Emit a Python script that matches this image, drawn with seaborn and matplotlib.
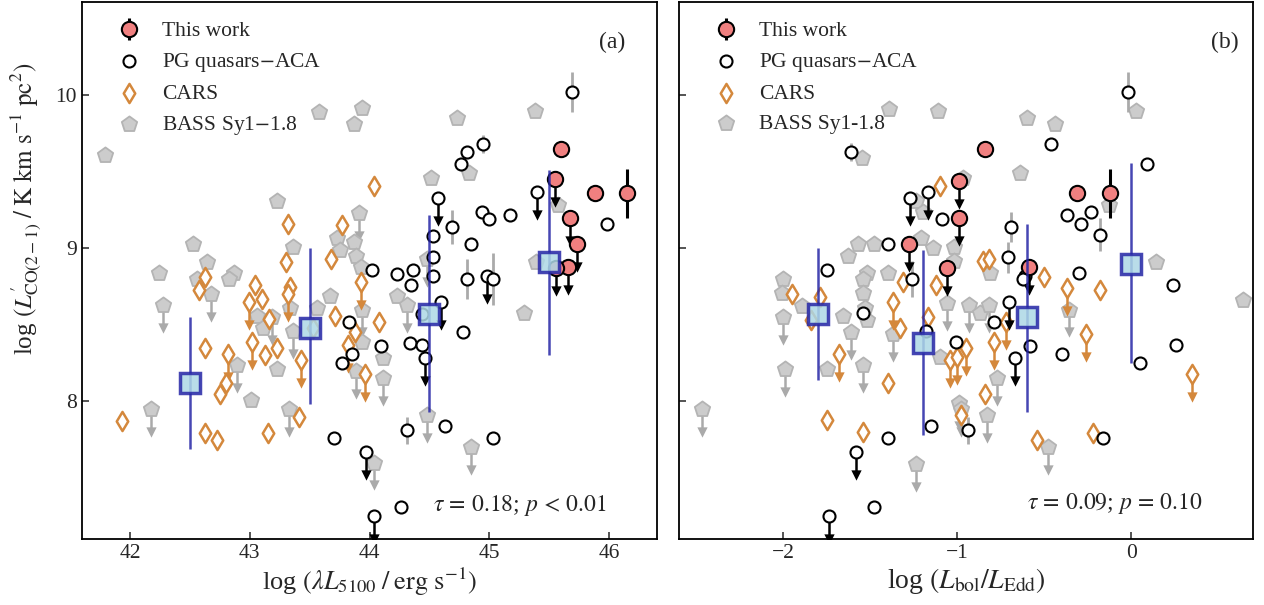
import matplotlib
matplotlib.use("Agg")
import matplotlib.pyplot as plt
import numpy as np
import pandas as pd
import seaborn as sns

sns.set_theme(style="ticks")
plt.rcParams["font.family"] = ["Liberation Serif", "DejaVu Serif"]
plt.rcParams["mathtext.fontset"] = "stix"

RED = "#f08080"
ORANGE = "#d4883c"
GRAY_FACE = "#cccccc"
GRAY_EDGE = "#b4b4b4"
GRAY_LINE = "#aaaaaa"
BLUE = "#2626a6"
LIGHTBLUE = "#add8e6"
ARROW = 0.15

# ---------------- panel (a): log lambda L5100 ----------------
pg_a_x = [45.69, 44.95, 44.81, 44.76, 44.57, 45.40, 44.94, 45.00, 45.17, 44.69,
          45.98, 44.85, 44.53, 44.53, 44.53, 44.81, 44.98, 45.03, 44.36, 44.23,
          44.35, 44.02, 44.60, 44.44, 44.78, 44.34, 44.44, 44.46, 44.10, 43.83,
          43.85, 43.77, 43.97, 43.70, 44.31, 44.63, 45.03, 44.26, 44.04]
pg_a_y = [10.02, 9.68, 9.63, 9.55, 9.33, 9.37, 9.24, 9.19, 9.22, 9.14,
          9.16, 9.03, 9.08, 8.94, 8.82, 8.80, 8.82, 8.80, 8.86, 8.83,
          8.76, 8.86, 8.65, 8.57, 8.45, 8.38, 8.37, 8.28, 8.36, 8.52,
          8.31, 8.25, 7.67, 7.76, 7.81, 7.84, 7.76, 7.31, 7.25]
pg_a_ul = [0, 0, 0, 0, 1, 1, 0, 0, 0, 0,
           0, 0, 0, 0, 0, 0, 1, 0, 0, 0,
           0, 0, 1, 0, 0, 0, 0, 1, 0, 0,
           0, 0, 1, 0, 0, 0, 0, 0, 1]
pg_a_err = [0.13, 0.06, 0, 0, 0, 0, 0, 0, 0, 0.11,
            0, 0, 0, 0, 0, 0.13, 0, 0.17, 0, 0,
            0, 0, 0, 0, 0, 0, 0, 0, 0, 0,
            0, 0, 0, 0, 0.09, 0, 0, 0, 0]

red_a_x = [45.60, 45.55, 45.67, 45.73, 45.66, 45.56, 45.88, 46.15]
red_a_y = [9.65, 9.45, 9.20, 9.03, 8.88, 8.87, 9.36, 9.36]
red_a_ul = [0, 1, 1, 1, 1, 1, 0, 0]
red_a_err = [0, 0, 0, 0, 0, 0, 0, 0.16]

cars_a_x = [44.04, 43.32, 43.77, 43.30, 43.68, 42.63, 42.58, 43.04, 43.10, 42.99,
            43.34, 43.32, 43.93, 43.16, 43.53, 43.71, 43.88, 44.08, 42.63, 42.82,
            43.02, 43.13, 43.23, 43.43, 42.80, 42.75, 41.93, 43.41, 42.63, 42.73,
            43.15, 43.82, 43.96]
cars_a_y = [9.41, 9.16, 9.15, 8.91, 8.93, 8.81, 8.73, 8.76, 8.67, 8.65,
            8.75, 8.70, 8.78, 8.54, 8.48, 8.56, 8.45, 8.52, 8.35, 8.31,
            8.39, 8.30, 8.35, 8.27, 8.12, 8.05, 7.87, 7.90, 7.79, 7.75,
            7.79, 8.37, 8.18]
cars_a_ul = [0, 0, 0, 0, 0, 0, 0, 0, 0, 1,
             0, 1, 1, 0, 0, 0, 0, 0, 0, 1,
             1, 0, 0, 1, 0, 0, 0, 0, 0, 0,
             0, 1, 1]

bass_a_x = [43.58, 43.94, 43.87, 41.79, 44.73, 45.38, 43.23, 43.91, 42.53, 43.36,
            43.73, 43.87, 43.75, 43.89, 43.93, 42.64, 42.24, 42.56, 42.87, 42.83,
            42.68, 43.67, 42.28, 43.06, 43.11, 43.19, 43.34, 43.56, 43.36, 43.94,
            43.94, 42.89, 43.23, 43.01, 42.18, 43.33, 43.89, 44.04, 44.51, 44.83,
            44.23, 44.31, 44.48, 44.11, 44.11, 44.48, 45.57, 45.39, 45.29, 44.85]
bass_a_y = [9.89, 9.92, 9.81, 9.61, 9.85, 9.90, 9.31, 9.23, 9.03, 9.01,
            9.07, 9.04, 8.99, 8.95, 8.88, 8.91, 8.84, 8.80, 8.84, 8.80,
            8.70, 8.69, 8.63, 8.56, 8.48, 8.55, 8.61, 8.61, 8.46, 8.60,
            8.39, 8.24, 8.21, 8.01, 7.95, 7.95, 8.20, 7.60, 9.46, 9.49,
            8.69, 8.63, 8.93, 8.28, 8.15, 7.91, 9.28, 8.91, 8.58, 7.70]
bass_a_ul = [0, 0, 0, 0, 0, 0, 0, 1, 0, 0,
             0, 0, 0, 0, 0, 0, 0, 0, 0, 0,
             1, 0, 1, 0, 0, 1, 0, 0, 1, 1,
             0, 1, 0, 0, 1, 1, 1, 1, 0, 0,
             0, 1, 1, 0, 1, 1, 0, 0, 0, 1]

bin_a_x = [42.5, 43.5, 44.5, 45.5]
bin_a_y = [8.12, 8.48, 8.57, 8.91]
bin_a_lo = [7.69, 7.98, 7.93, 8.30]
bin_a_hi = [8.55, 9.00, 9.22, 9.51]

# ---------------- panel (b): log Lbol/LEdd ----------------
pg_b_x = [-0.02, -1.61, -0.46, 0.09, -1.27, -1.17, -1.09, -0.37, -0.23, -0.29,
          -0.18, -0.69, -1.40, -0.71, -0.61, -0.62, -0.30, 0.24, -1.26, -1.75,
          -0.70, -0.79, -1.01, -1.18, -1.54, -0.67, -0.58, -0.40, 0.26, 0.05,
          -1.15, -1.40, -0.94, -1.58, -1.48, -1.74, -0.16]
pg_b_y = [10.02, 9.63, 9.68, 9.55, 9.33, 9.37, 9.19, 9.22, 9.24, 9.16,
          9.09, 9.14, 9.03, 8.94, 8.82, 8.80, 8.84, 8.76, 8.80, 8.86,
          8.65, 8.52, 8.39, 8.46, 8.58, 8.28, 8.36, 8.31, 8.37, 8.25,
          7.84, 7.76, 7.81, 7.67, 7.31, 7.25, 7.76]
pg_b_ul = [0, 0, 0, 0, 1, 1, 0, 0, 0, 0,
           0, 0, 0, 0, 0, 0, 0, 0, 0, 0,
           1, 0, 0, 0, 0, 1, 0, 0, 0, 0,
           0, 0, 0, 1, 0, 1, 0]
pg_b_err = [0.13, 0.06, 0, 0, 0, 0, 0, 0, 0, 0,
            0.11, 0.10, 0, 0.10, 0, 0, 0, 0, 0.12, 0,
            0, 0, 0, 0, 0, 0, 0, 0, 0, 0,
            0, 0, 0.09, 0, 0, 0, 0]

red_b_x = [-0.84, -0.99, -0.99, -1.28, -1.06, -0.59, -0.31, -0.12]
red_b_y = [9.65, 9.44, 9.20, 9.03, 8.87, 8.88, 9.36, 9.36]
red_b_ul = [0, 1, 1, 1, 1, 1, 0, 0]
red_b_err = [0, 0, 0, 0, 0, 0, 0, 0.16]

cars_b_x = [-1.10, -1.31, -1.12, -1.37, -1.33, -1.17, -1.40, -0.85, -0.82, -1.04,
            -1.00, -0.95, -0.79, -0.72, -0.84, -0.98, -1.95, -1.79, -1.84, -1.68,
            -1.75, -1.54, -0.50, -0.37, -0.18, -0.26, 0.35, -0.54, -0.22]
cars_b_y = [9.41, 8.78, 8.76, 8.65, 8.48, 8.55, 8.12, 8.92, 8.93, 8.27,
            8.29, 8.35, 8.39, 8.52, 8.05, 7.91, 8.70, 8.68, 8.53, 8.31,
            7.88, 7.80, 8.81, 8.74, 8.73, 8.44, 8.18, 7.75, 7.79]
cars_b_ul = [0, 0, 0, 1, 0, 0, 0, 0, 0, 1,
             1, 1, 1, 1, 0, 0, 0, 0, 0, 1,
             0, 0, 0, 1, 0, 1, 1, 0, 0]

bass_b_x = [-1.39, -1.11, -1.55, -0.60, -0.44, 0.03, -0.64, -0.97, -0.13, -1.24,
            -1.20, -1.21, -1.48, -1.57, -1.63, -1.14, -1.02, -1.02, -1.52, -1.40,
            -0.81, -1.54, -1.54, -1.06, -0.93, -0.87, -0.82, -1.53, -1.52, -1.37,
            -1.10, -1.54, -0.77, -0.99, -0.98, -0.83, -2.00, -2.01, -2.00, -1.89,
            -1.66, -1.61, -1.99, -1.75, -2.47, -1.24, 0.14, 0.64, -0.36, -0.48]
bass_b_y = [9.91, 9.90, 9.59, 9.85, 9.81, 9.90, 9.49, 9.46, 9.28, 9.31,
            9.24, 9.07, 9.03, 9.03, 8.95, 9.00, 9.01, 8.92, 8.84, 8.84,
            8.84, 8.80, 8.71, 8.64, 8.63, 8.58, 8.63, 8.61, 8.53, 8.44,
            8.29, 8.24, 8.15, 7.99, 7.95, 7.91, 8.80, 8.71, 8.55, 8.62,
            8.56, 8.45, 8.21, 8.21, 7.95, 7.59, 8.91, 8.66, 8.60, 7.70]
bass_b_ul = [0, 0, 0, 0, 0, 0, 0, 0, 0, 0,
             0, 0, 0, 0, 0, 0, 0, 0, 0, 0,
             0, 0, 0, 1, 1, 0, 1, 0, 0, 1,
             0, 1, 1, 1, 1, 1, 0, 0, 1, 0,
             0, 1, 1, 0, 1, 1, 0, 0, 1, 1]

bin_b_x = [-1.8, -1.2, -0.6, 0.0]
bin_b_y = [8.57, 8.38, 8.55, 8.90]
bin_b_lo = [8.14, 7.78, 7.93, 8.25]
bin_b_hi = [9.00, 8.99, 9.16, 9.56]


def frame(x, y, ul, err=None):
    df = pd.DataFrame({"x": x, "y": y, "ul": ul})
    df["err"] = err if err is not None else 0.0
    return df


def draw_limits(ax, df, color, z):
    lim = df[df.ul == 1]
    ax.vlines(lim.x, lim.y - ARROW, lim.y, color=color, lw=1.8, zorder=z)
    ax.scatter(lim.x, lim.y - ARROW, marker="v", s=55, color=color,
               linewidths=0, zorder=z)


def draw_panel(ax, pg, red, cars, bass, bins, bass_label, pg_label):
    # BASS
    draw_limits(ax, bass, GRAY_LINE, 1.5)
    sns.scatterplot(data=bass, x="x", y="y", marker="p", s=135, color=GRAY_FACE,
                    edgecolor=GRAY_EDGE, linewidth=1.3, zorder=2, ax=ax,
                    label=bass_label)
    # CARS
    draw_limits(ax, cars, ORANGE, 2.5)
    sns.scatterplot(data=cars, x="x", y="y", marker="d", s=95, color="white",
                    edgecolor=ORANGE, linewidth=1.8, zorder=3, ax=ax, label="CARS")
    # PG quasars
    e = pg[pg.err > 0]
    ax.errorbar(e.x, e.y, yerr=e.err, fmt="none", ecolor=GRAY_LINE, elinewidth=2,
                zorder=3.2)
    draw_limits(ax, pg, "black", 3.5)
    sns.scatterplot(data=pg, x="x", y="y", marker="o", s=75, color="white",
                    edgecolor="black", linewidth=1.5, zorder=4, ax=ax, label=pg_label)
    # This work
    draw_limits(ax, red, "black", 4.5)
    ax.errorbar(red.x, red.y, yerr=red.err, fmt="o", ms=11, mfc=RED,
                mec="black", mew=1.5, ecolor="black", elinewidth=2.2,
                zorder=5, label="This work")
    # binned medians
    ax.errorbar(bins.x, bins.y, yerr=[bins.y - bins.lo, bins.hi - bins.y], fmt="s",
                ms=15, mfc=LIGHTBLUE, mec=BLUE, mew=2.5, ecolor=BLUE,
                elinewidth=1.8, alpha=0.85, zorder=6)

    handles, labels = ax.get_legend_handles_labels()
    order = ["This work", pg_label, "CARS", bass_label]
    hmap = dict(zip(labels, handles))
    ax.legend([hmap[k] for k in order], order, loc="upper left",
              bbox_to_anchor=(0.0, 1.012), frameon=False, fontsize=15.5,
              borderaxespad=0.8, handletextpad=0.5, labelspacing=0.45)

    ax.set_ylim(7.1, 10.61)
    ax.set_yticks([8, 9, 10])
    ax.tick_params(direction="in", length=5, width=1.1, labelsize=15.5)
    for s in ax.spines.values():
        s.set_linewidth(1.3)
        s.set_color("black")


fig = plt.figure(figsize=(12.64, 6.05), dpi=100)
ax1 = fig.add_axes([82 / 1264, 66 / 605, 575 / 1264, 537 / 605])
ax2 = fig.add_axes([679 / 1264, 66 / 605, 574 / 1264, 537 / 605])

bins_a = pd.DataFrame({"x": bin_a_x, "y": bin_a_y, "lo": bin_a_lo, "hi": bin_a_hi})
bins_b = pd.DataFrame({"x": bin_b_x, "y": bin_b_y, "lo": bin_b_lo, "hi": bin_b_hi})

draw_panel(ax1, frame(pg_a_x, pg_a_y, pg_a_ul, pg_a_err),
           frame(red_a_x, red_a_y, red_a_ul, red_a_err),
           frame(cars_a_x, cars_a_y, cars_a_ul),
           frame(bass_a_x, bass_a_y, bass_a_ul), bins_a,
           r"BASS Sy1$-$1.8", r"PG quasars$-$ACA")
draw_panel(ax2, frame(pg_b_x, pg_b_y, pg_b_ul, pg_b_err),
           frame(red_b_x, red_b_y, red_b_ul, red_b_err),
           frame(cars_b_x, cars_b_y, cars_b_ul),
           frame(bass_b_x, bass_b_y, bass_b_ul), bins_b,
           "BASS Sy1-1.8", r"PG quasars$-$ACA")

ax1.set_xlim(41.6, 46.4)
ax1.set_xticks([42, 43, 44, 45, 46])
ax2.set_xlim(-2.6, 0.7)
ax2.set_xticks([-2, -1, 0])
ax2.set_yticklabels([])

ax1.set_xlabel(r"log $(\lambda L_{5100}\;/\;{\rm erg\ s^{-1}})$", fontsize=19,
               labelpad=2)
ax2.set_xlabel(r"log $(L_{\rm bol}/L_{\rm Edd})$", fontsize=20, labelpad=2)
ax1.set_ylabel(r"log $(L^{\prime}_{\rm CO(2-1)}\;/\;{\rm K\ km\ s^{-1}\ pc^{2}})$",
               fontsize=18)
ax1.yaxis.set_label_coords(-0.066, 0.615)
ax2.set_ylabel("")

ax1.text(0.922, 0.925, "(a)", transform=ax1.transAxes, ha="center", va="center",
         fontsize=17)
ax2.text(0.951, 0.925, "(b)", transform=ax2.transAxes, ha="center", va="center",
         fontsize=17)
ax1.text(0.913, 0.063, r"$\tau\,=\,0.18$; $p\,<\,0.01$", transform=ax1.transAxes,
         ha="right", va="center", fontsize=17)
ax2.text(0.913, 0.067, r"$\tau\,=\,0.09$; $p\,=\,0.10$", transform=ax2.transAxes,
         ha="right", va="center", fontsize=17)

fig.savefig("out.png", dpi=100)
